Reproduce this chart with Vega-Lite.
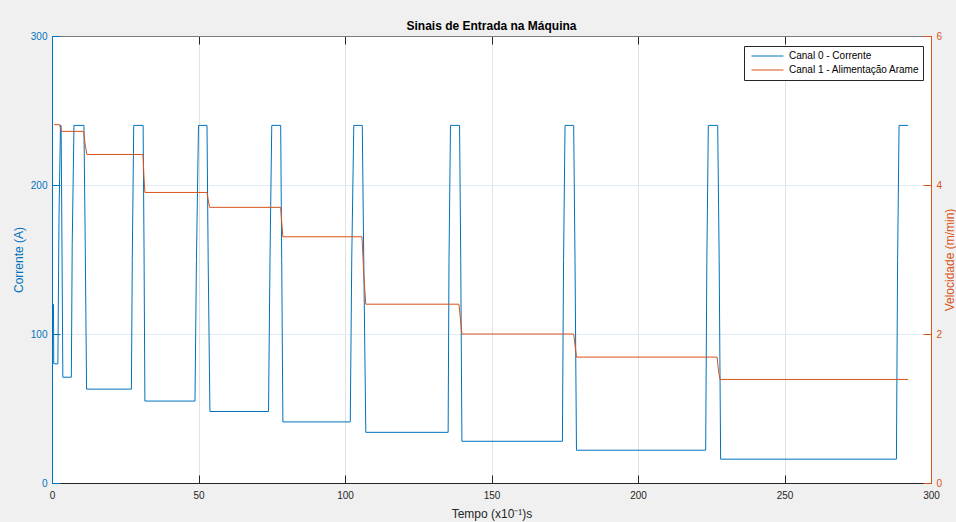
{
  "$schema": "https://vega.github.io/schema/vega-lite/v6.json",
  "autosize": {"type": "none"},
  "width": 879,
  "height": 447,
  "padding": {"left": 52, "top": 36, "right": 25, "bottom": 39},
  "background": "#f0f0f0",
  "view": {"fill": "white", "stroke": null},
  "title": {"text": "Sinais de Entrada na Máquina", "fontSize": 12, "fontWeight": "bold", "color": "#000000", "offset": -2, "anchor": "middle", "frame": "group", "font": "Liberation Sans"},
  "datasets": {
    "ch0": [
      {"t": 0.5, "v": 120, "s": "Canal 0 - Corrente"},
      {"t": 0.6, "v": 80, "s": "Canal 0 - Corrente"},
      {"t": 2.0, "v": 80, "s": "Canal 0 - Corrente"},
      {"t": 2.4, "v": 180, "s": "Canal 0 - Corrente"},
      {"t": 2.9, "v": 240, "s": "Canal 0 - Corrente"},
      {"t": 3.1, "v": 240, "s": "Canal 0 - Corrente"},
      {"t": 3.3, "v": 190, "s": "Canal 0 - Corrente"},
      {"t": 3.7, "v": 71, "s": "Canal 0 - Corrente"},
      {"t": 6.6, "v": 71, "s": "Canal 0 - Corrente"},
      {"t": 6.9, "v": 160, "s": "Canal 0 - Corrente"},
      {"t": 7.5, "v": 240, "s": "Canal 0 - Corrente"},
      {"t": 10.9, "v": 240, "s": "Canal 0 - Corrente"},
      {"t": 11.3, "v": 170, "s": "Canal 0 - Corrente"},
      {"t": 11.8, "v": 63, "s": "Canal 0 - Corrente"},
      {"t": 27.1, "v": 63, "s": "Canal 0 - Corrente"},
      {"t": 27.4, "v": 150, "s": "Canal 0 - Corrente"},
      {"t": 27.9, "v": 240, "s": "Canal 0 - Corrente"},
      {"t": 31.1, "v": 240, "s": "Canal 0 - Corrente"},
      {"t": 31.4, "v": 160, "s": "Canal 0 - Corrente"},
      {"t": 31.7, "v": 55, "s": "Canal 0 - Corrente"},
      {"t": 48.8, "v": 55, "s": "Canal 0 - Corrente"},
      {"t": 49.3, "v": 150, "s": "Canal 0 - Corrente"},
      {"t": 50.0, "v": 240, "s": "Canal 0 - Corrente"},
      {"t": 52.9, "v": 240, "s": "Canal 0 - Corrente"},
      {"t": 53.3, "v": 150, "s": "Canal 0 - Corrente"},
      {"t": 53.9, "v": 48, "s": "Canal 0 - Corrente"},
      {"t": 73.9, "v": 48, "s": "Canal 0 - Corrente"},
      {"t": 74.4, "v": 150, "s": "Canal 0 - Corrente"},
      {"t": 75.0, "v": 240, "s": "Canal 0 - Corrente"},
      {"t": 78.05, "v": 240, "s": "Canal 0 - Corrente"},
      {"t": 78.4, "v": 150, "s": "Canal 0 - Corrente"},
      {"t": 78.8, "v": 41, "s": "Canal 0 - Corrente"},
      {"t": 101.8, "v": 41, "s": "Canal 0 - Corrente"},
      {"t": 102.3, "v": 150, "s": "Canal 0 - Corrente"},
      {"t": 103.0, "v": 240, "s": "Canal 0 - Corrente"},
      {"t": 105.9, "v": 240, "s": "Canal 0 - Corrente"},
      {"t": 106.4, "v": 150, "s": "Canal 0 - Corrente"},
      {"t": 107.1, "v": 34, "s": "Canal 0 - Corrente"},
      {"t": 135.2, "v": 34, "s": "Canal 0 - Corrente"},
      {"t": 135.5, "v": 150, "s": "Canal 0 - Corrente"},
      {"t": 136.0, "v": 240, "s": "Canal 0 - Corrente"},
      {"t": 139.1, "v": 240, "s": "Canal 0 - Corrente"},
      {"t": 139.5, "v": 150, "s": "Canal 0 - Corrente"},
      {"t": 139.9, "v": 28, "s": "Canal 0 - Corrente"},
      {"t": 174.2, "v": 28, "s": "Canal 0 - Corrente"},
      {"t": 174.6, "v": 150, "s": "Canal 0 - Corrente"},
      {"t": 175.1, "v": 240, "s": "Canal 0 - Corrente"},
      {"t": 178.05, "v": 240, "s": "Canal 0 - Corrente"},
      {"t": 178.5, "v": 150, "s": "Canal 0 - Corrente"},
      {"t": 179.0, "v": 22, "s": "Canal 0 - Corrente"},
      {"t": 223.1, "v": 22, "s": "Canal 0 - Corrente"},
      {"t": 223.5, "v": 150, "s": "Canal 0 - Corrente"},
      {"t": 224.0, "v": 240, "s": "Canal 0 - Corrente"},
      {"t": 227.2, "v": 240, "s": "Canal 0 - Corrente"},
      {"t": 227.7, "v": 150, "s": "Canal 0 - Corrente"},
      {"t": 228.2, "v": 16, "s": "Canal 0 - Corrente"},
      {"t": 288.2, "v": 16, "s": "Canal 0 - Corrente"},
      {"t": 288.6, "v": 150, "s": "Canal 0 - Corrente"},
      {"t": 289.1, "v": 240, "s": "Canal 0 - Corrente"},
      {"t": 292.2, "v": 240, "s": "Canal 0 - Corrente"}
    ],
    "ch1": [
      {"t": 0.7, "v": 4.81, "s": "Canal 1 - Alimentação Arame"},
      {"t": 2.6, "v": 4.81, "s": "Canal 1 - Alimentação Arame"},
      {"t": 3.2, "v": 4.72, "s": "Canal 1 - Alimentação Arame"},
      {"t": 10.8, "v": 4.72, "s": "Canal 1 - Alimentação Arame"},
      {"t": 11.3, "v": 4.55, "s": "Canal 1 - Alimentação Arame"},
      {"t": 11.9, "v": 4.41, "s": "Canal 1 - Alimentação Arame"},
      {"t": 31.06, "v": 4.41, "s": "Canal 1 - Alimentação Arame"},
      {"t": 31.4, "v": 4.1, "s": "Canal 1 - Alimentação Arame"},
      {"t": 31.7, "v": 3.9, "s": "Canal 1 - Alimentação Arame"},
      {"t": 52.9, "v": 3.9, "s": "Canal 1 - Alimentação Arame"},
      {"t": 53.3, "v": 3.8, "s": "Canal 1 - Alimentação Arame"},
      {"t": 53.8, "v": 3.7, "s": "Canal 1 - Alimentação Arame"},
      {"t": 78.05, "v": 3.7, "s": "Canal 1 - Alimentação Arame"},
      {"t": 78.4, "v": 3.5, "s": "Canal 1 - Alimentação Arame"},
      {"t": 78.8, "v": 3.305, "s": "Canal 1 - Alimentação Arame"},
      {"t": 105.8, "v": 3.305, "s": "Canal 1 - Alimentação Arame"},
      {"t": 106.4, "v": 2.8, "s": "Canal 1 - Alimentação Arame"},
      {"t": 107.1, "v": 2.4, "s": "Canal 1 - Alimentação Arame"},
      {"t": 138.9, "v": 2.4, "s": "Canal 1 - Alimentação Arame"},
      {"t": 139.4, "v": 2.2, "s": "Canal 1 - Alimentação Arame"},
      {"t": 139.9, "v": 2.0, "s": "Canal 1 - Alimentação Arame"},
      {"t": 178.05, "v": 2.0, "s": "Canal 1 - Alimentação Arame"},
      {"t": 178.5, "v": 1.85, "s": "Canal 1 - Alimentação Arame"},
      {"t": 179.0, "v": 1.69, "s": "Canal 1 - Alimentação Arame"},
      {"t": 227.0, "v": 1.69, "s": "Canal 1 - Alimentação Arame"},
      {"t": 227.5, "v": 1.5, "s": "Canal 1 - Alimentação Arame"},
      {"t": 228.0, "v": 1.39, "s": "Canal 1 - Alimentação Arame"},
      {"t": 292.2, "v": 1.39, "s": "Canal 1 - Alimentação Arame"}
    ]
  },
  "layer": [
    {
      "data": {"name": "ch0"},
      "mark": {"type": "line", "strokeWidth": 1},
      "encoding": {
        "x": {"field": "t", "type": "quantitative", "scale": {"domain": [0, 300], "nice": false, "zero": false},
          "axis": {"orient": "bottom", "values": [0, 50, 100, 150, 200, 250, 300], "title": "Tempo (x10⁻¹)s", "grid": true, "gridColor": "#e2e2e2", "domainColor": "#262626", "tickColor": "#262626", "tickSize": -8, "labelPadding": 15, "labelColor": "#262626", "labelFontSize": 10, "labelFont": "Liberation Sans", "labelFlush": false, "titleFont": "Liberation Sans", "titleFontSize": 12, "titleFontWeight": "normal", "titleColor": "#262626", "titlePadding": 8}},
        "y": {"field": "v", "type": "quantitative", "scale": {"domain": [0, 300], "nice": false},
          "axis": {"orient": "left", "values": [0, 100, 200, 300], "title": "Corrente (A)", "grid": true, "gridColor": "#e1ecf6", "domainColor": "#0072BD", "tickColor": "#0072BD", "tickSize": -8, "labelPadding": 13, "labelColor": "#0072BD", "labelFontSize": 10, "labelFont": "Liberation Sans", "titleFont": "Liberation Sans", "titleFontSize": 12, "titleFontWeight": "normal", "titleColor": "#0072BD", "titlePadding": 5}},
        "color": {"field": "s", "type": "nominal",
          "scale": {"domain": ["Canal 0 - Corrente", "Canal 1 - Alimentação Arame"], "range": ["#0072BD", "#D95319"]},
          "legend": {"orient": "none", "legendX": 692, "legendY": 10, "title": null, "fillColor": "white", "strokeColor": "#262626", "padding": 3, "symbolType": "stroke", "symbolSize": 1024, "symbolStrokeWidth": 1, "clipHeight": 14, "rowPadding": 0, "labelFontSize": 10, "labelFont": "Liberation Sans", "labelColor": "#000000", "labelOffset": 5, "symbolOffset": 4, "cornerRadius": 0}}
      }
    },
    {
      "data": {"name": "ch1"},
      "mark": {"type": "line", "strokeWidth": 1},
      "encoding": {
        "x": {"field": "t", "type": "quantitative", "scale": {"domain": [0, 300], "nice": false, "zero": false},
          "axis": {"orient": "top", "values": [0, 50, 100, 150, 200, 250, 300], "title": null, "labels": false, "grid": false, "domainColor": "#7a7a7a", "tickColor": "#262626", "tickSize": -8}},
        "y": {"field": "v", "type": "quantitative", "scale": {"domain": [0, 6], "nice": false},
          "axis": {"orient": "right", "values": [0, 2, 4, 6], "title": "Velocidade (m/min)", "titleAngle": -90, "grid": false, "domainColor": "#D95319", "tickColor": "#D95319", "tickSize": -8, "labelPadding": 13, "labelColor": "#D95319", "labelFontSize": 10, "labelFont": "Liberation Sans", "titleFont": "Liberation Sans", "titleFontSize": 12, "titleFontWeight": "normal", "titleColor": "#D95319", "titlePadding": 15}},
        "color": {"field": "s", "type": "nominal"}
      }
    }
  ],
  "resolve": {"scale": {"y": "independent"}, "axis": {"x": "independent"}}
}
